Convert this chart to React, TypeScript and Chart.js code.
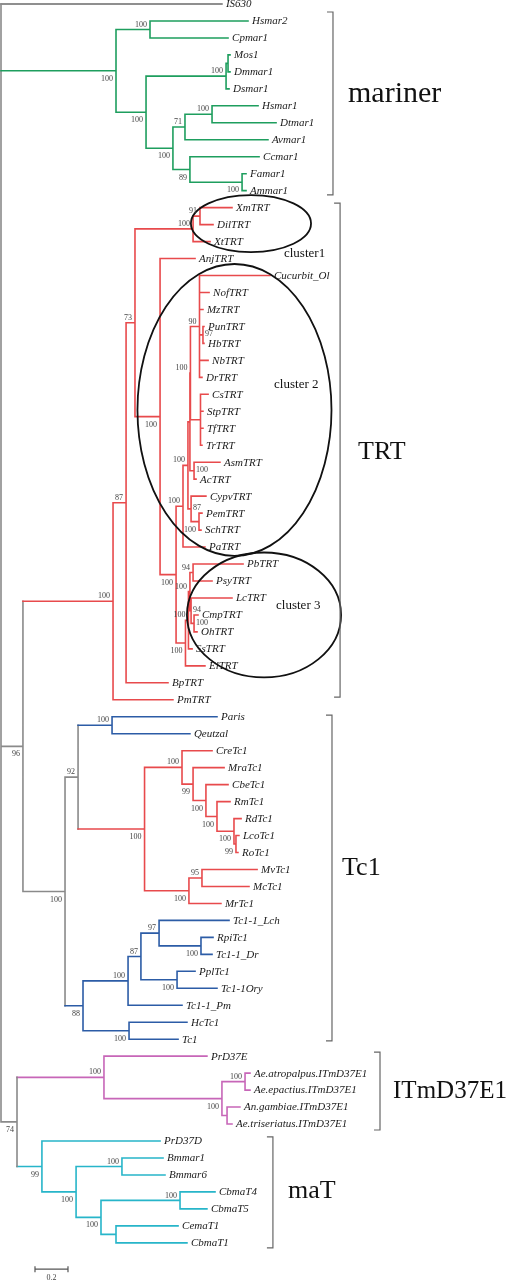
import React, { useEffect, useRef } from "react";
import { Chart, registerables } from "chart.js";
Chart.register(...registerables);

// ---------- DATA (branch depths in substitutions/site) ----------
const outgroupLeaves = ["IS630"];
const outgroupDepths = [1.339];

const marinerLeaves = ["Hsmar2", "Cpmar1", "Mos1", "Dmmar1", "Dsmar1", "Hsmar1", "Dtmar1", "Avmar1", "Ccmar1", "Famar1", "Ammar1"];
const marinerDepths = [1.497, 1.376, 1.388, 1.388, 1.382, 1.558, 1.667, 1.618, 1.564, 1.485, 1.485];

const trtLeaves = ["XmTRT", "DilTRT", "XtTRT", "AnjTRT", "Cucurbit_Ol", "NofTRT", "MzTRT", "PunTRT", "HbTRT", "NbTRT", "DrTRT", "CsTRT", "StpTRT", "TfTRT", "TrTRT", "AsmTRT", "AcTRT", "CypvTRT", "PemTRT", "SchTRT", "PaTRT", "PbTRT", "PsyTRT", "LcTRT", "CmpTRT", "OhTRT", "SsTRT", "ElTRT", "BpTRT", "PmTRT"];
const trtDepths = [1.4, 1.285, 1.267, 1.176, 1.63, 1.261, 1.224, 1.23, 1.23, 1.255, 1.218, 1.255, 1.224, 1.224, 1.218, 1.327, 1.182, 1.242, 1.218, 1.212, 1.236, 1.467, 1.279, 1.4, 1.194, 1.188, 1.158, 1.236, 1.012, 1.042];

const tc1aLeaves = ["Paris", "Qeutzal"];
const tc1aDepths = [1.309, 1.145];

const tc1bLeaves = ["CreTc1", "MraTc1", "CbeTc1", "RmTc1", "RdTc1", "LcoTc1", "RoTc1", "MvTc1", "McTc1", "MrTc1"];
const tc1bDepths = [1.279, 1.352, 1.376, 1.388, 1.455, 1.442, 1.436, 1.552, 1.503, 1.333];

const tc1cLeaves = ["Tc1-1_Lch", "RpiTc1", "Tc1-1_Dr", "PplTc1", "Tc1-1Ory", "Tc1-1_Pm", "HcTc1", "Tc1"];
const tc1cDepths = [1.382, 1.285, 1.279, 1.176, 1.309, 1.097, 1.127, 1.073];

const itmLeaves = ["PrD37E", "Ae.atropalpus.ITmD37E1", "Ae.epactius.ITmD37E1", "An.gambiae.ITmD37E1", "Ae.triseriatus.ITmD37E1"];
const itmDepths = [1.248, 1.509, 1.509, 1.448, 1.4];

const matLeaves = ["PrD37D", "Bmmar1", "Bmmar6", "CbmaT4", "CbmaT5", "CemaT1", "CbmaT1"];
const matDepths = [0.964, 0.982, 0.994, 1.297, 1.248, 1.073, 1.127];

// internal nodes: [id, depth, children, bootstrap, label side ('r' = right of node)]
type NodeRec = [string, number, string[], number | null, string?];
const treeNodes: NodeRec[] = [
  ["n_root", 0, ["IS630", "n_mar", "n_96", "n_74"], null],
  // mariner
  ["n_mar", 0.697, ["n_m1", "n_m2"], 100],
  ["n_m1", 0.903, ["Hsmar2", "Cpmar1"], 100],
  ["n_m2", 0.879, ["n_mos", "n_m3"], 100],
  ["n_mos", 1.364, ["n_mos2", "Dsmar1"], 100],
  ["n_mos2", 1.376, ["Mos1", "Dmmar1"], null],
  ["n_m3", 1.042, ["n_m71", "n_m89"], 100],
  ["n_m71", 1.115, ["n_mh", "Avmar1"], 71],
  ["n_mh", 1.279, ["Hsmar1", "Dtmar1"], 100],
  ["n_m89", 1.145, ["Ccmar1", "n_mf"], 89],
  ["n_mf", 1.461, ["Famar1", "Ammar1"], 100],
  // TRT + Tc1
  ["n_96", 0.133, ["n_trt", "n_tc"], 96],
  ["n_trt", 0.679, ["n_t87", "PmTRT"], 100],
  ["n_t87", 0.758, ["n_t73", "BpTRT"], 87],
  ["n_t73", 0.812, ["n_c1", "n_t2"], 73],
  ["n_c1", 1.164, ["n_t91", "XtTRT"], 100],
  ["n_t91", 1.206, ["XmTRT", "DilTRT"], 91],
  ["n_t2", 0.964, ["AnjTRT", "n_t3"], 100],
  ["n_t3", 1.061, ["n_tP", "n_c3"], 100],
  ["n_tP", 1.103, ["n_tX", "PaTRT"], 100],
  ["n_tX", 1.133, ["n_tW", "n_t87b"], 100],
  ["n_tW", 1.145, ["n_core", "n_asm"], null],
  ["n_core", 1.148, ["n_t90", "n_tcs"], 100],
  ["n_t90", 1.203, ["Cucurbit_Ol", "NofTRT", "MzTRT", "n_t97", "NbTRT", "DrTRT"], 90],
  ["n_t97", 1.224, ["PunTRT", "HbTRT"], 97, "r"],
  ["n_tcs", 1.209, ["CsTRT", "StpTRT", "TfTRT", "TrTRT"], null],
  ["n_asm", 1.17, ["AsmTRT", "AcTRT"], 100, "r"],
  ["n_t87b", 1.152, ["CypvTRT", "n_ps"], 87, "r"],
  ["n_ps", 1.2, ["PemTRT", "SchTRT"], 100],
  ["n_c3", 1.118, ["n_s1", "ElTRT"], 100],
  ["n_s1", 1.136, ["n_s2", "SsTRT"], 100],
  ["n_s2", 1.145, ["n_t94", "n_s3"], 100],
  ["n_t94", 1.164, ["PbTRT", "PsyTRT"], 94],
  ["n_s3", 1.152, ["LcTRT", "n_co"], 94, "r"],
  ["n_co", 1.17, ["CmpTRT", "OhTRT"], 100, "r"],
  ["n_tc", 0.388, ["n_t92", "n_b88"], 100],
  ["n_t92", 0.467, ["n_pq", "n_r"], 92],
  ["n_pq", 0.673, ["Paris", "Qeutzal"], 100],
  ["n_r", 0.87, ["n_r1", "n_rm"], 100],
  ["n_r1", 1.097, ["CreTc1", "n_r99"], 100],
  ["n_r99", 1.164, ["MraTc1", "n_r2"], 99],
  ["n_r2", 1.242, ["CbeTc1", "n_r3"], 100],
  ["n_r3", 1.309, ["RmTc1", "n_r4"], 100],
  ["n_r4", 1.412, ["RdTc1", "n_r5"], 100],
  ["n_r5", 1.424, ["LcoTc1", "RoTc1"], 99],
  ["n_rm", 1.139, ["n_r95", "MrTc1"], 100],
  ["n_r95", 1.218, ["MvTc1", "McTc1"], 95],
  ["n_b88", 0.497, ["n_b1", "n_hc"], 88],
  ["n_b1", 0.77, ["n_b87", "Tc1-1_Pm"], 100],
  ["n_b87", 0.848, ["n_b97", "n_pp"], 87],
  ["n_b97", 0.958, ["Tc1-1_Lch", "n_rp"], 97],
  ["n_rp", 1.212, ["RpiTc1", "Tc1-1_Dr"], 100],
  ["n_pp", 1.067, ["PplTc1", "Tc1-1Ory"], 100],
  ["n_hc", 0.776, ["HcTc1", "Tc1"], 100],
  // ITmD37E1 + maT
  ["n_74", 0.097, ["n_itm", "n_mat"], 74],
  ["n_itm", 0.624, ["PrD37E", "n_i2"], 100],
  ["n_i2", 1.339, ["n_i3", "n_i4"], 100],
  ["n_i3", 1.479, ["Ae.atropalpus.ITmD37E1", "Ae.epactius.ITmD37E1"], 100],
  ["n_i4", 1.37, ["An.gambiae.ITmD37E1", "Ae.triseriatus.ITmD37E1"], null],
  ["n_mat", 0.248, ["PrD37D", "n_a2"], 99],
  ["n_a2", 0.455, ["n_a3", "n_a4"], 100],
  ["n_a3", 0.733, ["Bmmar1", "Bmmar6"], 100],
  ["n_a4", 0.606, ["n_a5", "n_a6"], 100],
  ["n_a5", 1.085, ["CbmaT4", "CbmaT5"], 100],
  ["n_a6", 0.697, ["CemaT1", "CbmaT1"], null],
];

// clade brackets: label, x (tree units), first leaf, last leaf, pads, label position (tree / leaf units)
const cladeLabels = ["mariner", "TRT", "Tc1", "ITmD37E1", "maT"];
const cladeFontPx = [30, 26, 26, 25, 26];
const cladeBracketX = [2.012, 2.055, 2.006, 2.297, 1.648];
const cladeFirst = ["Hsmar2", "XmTRT", "Paris", "PrD37E", "PrD37D"];
const cladeLast = ["Ammar1", "PmTRT", "Tc1", "Ae.triseriatus.ITmD37E1", "CbmaT1"];
const cladeTopPad = [0.53, 0.27, 0.1, 0.24, 0.24];
const cladeBotPad = [0.25, -0.16, 0.1, 0.35, 0.3];
const cladeTextX = [2.103, 2.164, 2.067, 2.376, 1.739];
const cladeTextY = [5.3, 26.4, 50.9, 64.05, 69.95];

// cluster ellipses (centre x in tree units, centre y in leaf units, radii)
const clusterNames = ["cluster1", "cluster 2", "cluster 3"];
const clusterCx = [1.515, 1.415, 1.594];
const clusterCy = [12.94, 23.92, 36.0];
const clusterRx = [0.364, 0.588, 0.467];
const clusterRy = [1.68, 8.6, 3.68];
const clusterTextX = [1.715, 1.655, 1.667];
const clusterTextY = [14.73, 22.45, 35.42];

const scaleBarLength = 0.2;
const scaleBarStart = 0.206;

const COLORS: Record<string, string> = {
  o: "#6a6a6a",
  g: "#1e9e5e",
  r: "#e84a4c",
  b: "#2c5ca6",
  p: "#c766b8",
  c: "#27b5c9",
  mix: "#8a8a8a",
};

const leafGroups: [string[], number[], string][] = [
  [outgroupLeaves, outgroupDepths, "o"],
  [marinerLeaves, marinerDepths, "g"],
  [trtLeaves, trtDepths, "r"],
  [tc1aLeaves, tc1aDepths, "b"],
  [tc1bLeaves, tc1bDepths, "r"],
  [tc1cLeaves, tc1cDepths, "b"],
  [itmLeaves, itmDepths, "p"],
  [matLeaves, matDepths, "c"],
];

type P = { x: number; y: number; color: string };

function layoutTree() {
  const leafIdx = new Map<string, number>();
  const leafDepth = new Map<string, number>();
  const leafCol = new Map<string, string>();
  leafGroups.forEach(([names, depths, col]) =>
    names.forEach((n, i) => {
      leafIdx.set(n, leafIdx.size);
      leafDepth.set(n, depths[i]);
      leafCol.set(n, col);
    })
  );
  const nodeMap = new Map<string, NodeRec>(treeNodes.map((n) => [n[0], n]));
  const pos = new Map<string, P>();
  const segs: { c: string; a: [number, number]; b: [number, number] }[] = [];
  const supports: { x: number; y: number; t: string; side: string }[] = [];
  const parentInfo = new Map<string, number>();

  const place = (id: string): P => {
    if (leafIdx.has(id)) {
      const p = { x: leafDepth.get(id)!, y: leafIdx.get(id)!, color: leafCol.get(id)! };
      pos.set(id, p);
      return p;
    }
    const n = nodeMap.get(id)!;
    n[2].forEach((k, i) => parentInfo.set(k, i));
    const kids = n[2].map(place);
    const y = (kids[0].y + kids[kids.length - 1].y) / 2;
    const cols = new Set(kids.map((k) => k.color));
    const color = cols.size === 1 ? kids[0].color : "mix";
    const p = { x: n[1], y, color };
    pos.set(id, p);
    segs.push({ c: color, a: [n[1], kids[0].y], b: [n[1], kids[kids.length - 1].y] });
    kids.forEach((k) => segs.push({ c: k.color, a: [n[1], k.y], b: [k.x, k.y] }));
    return p;
  };
  place("n_root");
  treeNodes.forEach((n) => {
    if (n[3] == null) return;
    const p = pos.get(n[0])!;
    const side = n[4] === "r" ? "r" : parentInfo.get(n[0]) === 0 ? "a" : "b";
    supports.push({ x: p.x, y: p.y, t: String(n[3]), side });
  });
  return { leafIdx, leafDepth, segs, supports };
}

export default function App() {
  const ref = useRef<HTMLCanvasElement | null>(null);
  useEffect(() => {
    if (!ref.current) return;
    const { leafIdx, leafDepth, segs, supports } = layoutTree();
    const byColor: Record<string, any[]> = {};
    segs.forEach((s) => {
      (byColor[s.c] = byColor[s.c] || []).push(
        { x: s.a[0], y: s.a[1] },
        { x: s.b[0], y: s.b[1] },
        { x: s.b[0], y: null }
      );
    });
    const datasets = Object.keys(byColor).map((k) => ({
      label: k,
      data: byColor[k],
      showLine: true,
      spanGaps: false,
      borderColor: COLORS[k],
      backgroundColor: COLORS[k],
      borderWidth: 1.6,
      borderCapStyle: "square" as const,
      pointRadius: 0,
      pointHoverRadius: 0,
    }));

    const overlay = {
      id: "treeOverlay",
      afterDatasetsDraw(chart: any) {
        const { ctx } = chart;
        const xs = chart.scales.x;
        const ys = chart.scales.y;
        const X = (v: number) => xs.getPixelForValue(v);
        const Y = (v: number) => ys.getPixelForValue(v);
        ctx.save();
        // ellipses
        ctx.strokeStyle = "#111";
        ctx.lineWidth = 1.8;
        clusterNames.forEach((_, i) => {
          const cx = X(clusterCx[i]);
          const cy = Y(clusterCy[i]);
          const rx = X(clusterCx[i] + clusterRx[i]) - cx;
          const ry = Y(clusterCy[i] + clusterRy[i]) - cy;
          ctx.beginPath();
          ctx.ellipse(cx, cy, Math.abs(rx), Math.abs(ry), 0, 0, Math.PI * 2);
          ctx.stroke();
        });
        // leaf labels
        ctx.fillStyle = "#1a1a1a";
        ctx.font = 'italic 11px "Liberation Serif"';
        ctx.textAlign = "left";
        ctx.textBaseline = "middle";
        leafIdx.forEach((i, name) => {
          ctx.fillText(name, X(leafDepth.get(name)!) + 4, Y(i) + 0.5);
        });
        // bootstrap values
        ctx.fillStyle = "#444";
        ctx.font = '8px "Liberation Serif"';
        supports.forEach((s) => {
          const px = X(s.x);
          const py = Y(s.y);
          if (s.side === "r") {
            ctx.textAlign = "left";
            ctx.fillText(s.t, px + 2, py - 1);
          } else {
            ctx.textAlign = "right";
            ctx.fillText(s.t, px - 3, s.side === "a" ? py - 5 : py + 8);
          }
        });
        // cluster labels
        ctx.fillStyle = "#111";
        ctx.font = '13px "Liberation Serif"';
        ctx.textAlign = "left";
        clusterNames.forEach((n, i) => ctx.fillText(n, X(clusterTextX[i]), Y(clusterTextY[i])));
        // clade brackets
        ctx.strokeStyle = "#666";
        ctx.lineWidth = 1.2;
        cladeLabels.forEach((lab, i) => {
          const bx = X(cladeBracketX[i]);
          const top = Y(leafIdx.get(cladeFirst[i])! - cladeTopPad[i]);
          const bot = Y(leafIdx.get(cladeLast[i])! + cladeBotPad[i]);
          ctx.beginPath();
          ctx.moveTo(bx - 6, top);
          ctx.lineTo(bx, top);
          ctx.lineTo(bx, bot);
          ctx.lineTo(bx - 6, bot);
          ctx.stroke();
          ctx.fillStyle = "#111";
          ctx.font = cladeFontPx[i] + 'px "Liberation Serif"';
          ctx.textAlign = "left";
          ctx.textBaseline = "middle";
          ctx.fillText(lab, X(cladeTextX[i]), Y(cladeTextY[i]));
        });
        // scale bar
        const sy = Y(leafIdx.size - 1 + 1.55);
        const sx0 = X(scaleBarStart);
        const sx1 = X(scaleBarStart + scaleBarLength);
        ctx.strokeStyle = "#555";
        ctx.lineWidth = 1.2;
        ctx.beginPath();
        ctx.moveTo(sx0, sy);
        ctx.lineTo(sx1, sy);
        ctx.moveTo(sx0, sy - 3);
        ctx.lineTo(sx0, sy + 3);
        ctx.moveTo(sx1, sy - 3);
        ctx.lineTo(sx1, sy + 3);
        ctx.stroke();
        ctx.fillStyle = "#444";
        ctx.font = '8px "Liberation Serif"';
        ctx.textAlign = "center";
        ctx.fillText(String(scaleBarLength), (sx0 + sx1) / 2, sy + 9);
        ctx.restore();
      },
    };

    const chart = new Chart(ref.current, {
      type: "scatter",
      data: { datasets },
      options: {
        responsive: false,
        animation: false,
        devicePixelRatio: 1,
        events: [],
        layout: { padding: 0 },
        plugins: { legend: { display: false }, tooltip: { enabled: false } },
        scales: {
          x: { type: "linear", display: false, min: -0.00606, max: 3.0727, bounds: "data" },
          y: { type: "linear", display: false, reverse: true, min: -0.2357, max: 75.19, bounds: "data" },
        },
      },
      plugins: [overlay],
    } as any);
    return () => chart.destroy();
  }, []);
  return (
    <div style={{ position: "absolute", left: 0, top: 0, width: 508, height: 1280, background: "#fff" }}>
      <canvas ref={ref} width={508} height={1280} style={{ display: "block" }} />
    </div>
  );
}
